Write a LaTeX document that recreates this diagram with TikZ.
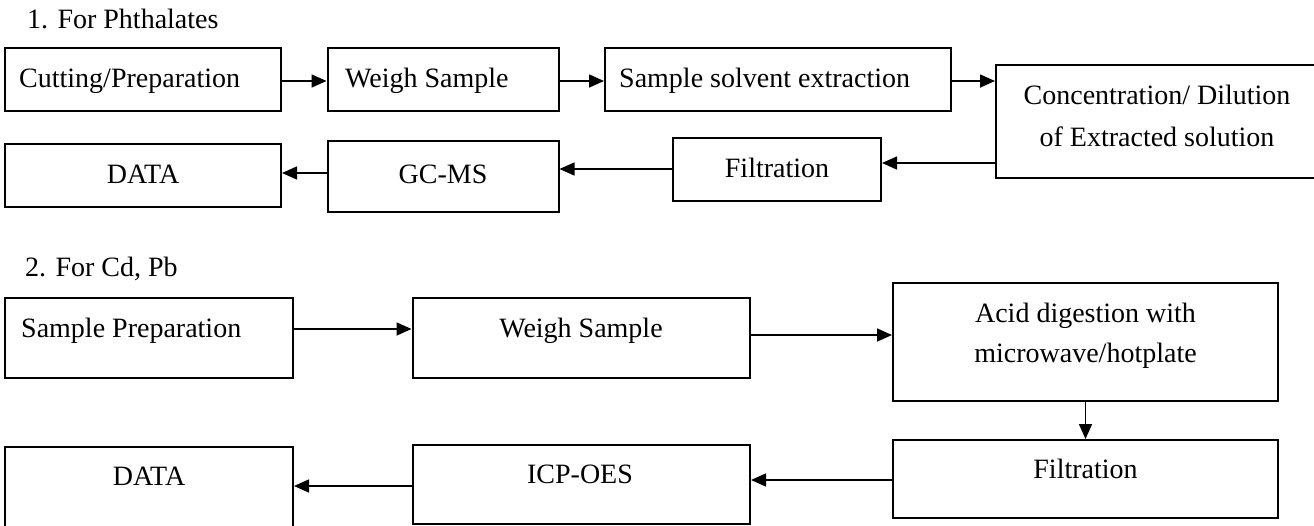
\documentclass[tikz,border=0pt]{standalone}
\usepackage{fontspec}
\setmainfont{Liberation Serif}
\usetikzlibrary{arrows.meta}
\begin{document}
\begin{tikzpicture}[x=1pt,y=-1pt,
  box/.style={draw, line width=2pt, inner sep=0pt, rectangle},
  lbl/.style={inner sep=0pt, font=\fontsize{28}{42}\selectfont},
  arr/.style={line width=1.6pt, -{Triangle[length=15pt,width=13pt]}}]
\useasboundingbox (0,0) rectangle (1314,525);
% ---------- Section 1 ----------
\node[lbl, anchor=base west] (t1) at (27,28) {1. For Phthalates};
\node[box, minimum width=276pt, minimum height=63pt] (A) at (143,79.5) {};
\node[box, minimum width=231pt, minimum height=63pt] (B) at (443,79.5) {};
\node[box, minimum width=346pt, minimum height=63pt] (C) at (778,79.5) {};
\node[box, minimum width=322pt, minimum height=113pt] (D) at (1157,121.5) {};
\node[box, minimum width=208pt, minimum height=63pt] (E) at (777,169.5) {};
\node[box, minimum width=231pt, minimum height=71pt] (F) at (443,176.5) {};
\node[box, minimum width=276pt, minimum height=63pt] (G) at (143,175.5) {};
\node[lbl, anchor=base west] (tA) at (19,87) {Cutting/Preparation};
\node[lbl, anchor=base west] (tB) at (345,87) {Weigh Sample};
\node[lbl, anchor=base west] (tC) at (619,87) {Sample solvent extraction};
\node[lbl, anchor=base] (tD1) at (1157,104) {Concentration/ Dilution};
\node[lbl, anchor=base] (tD2) at (1157,146) {of Extracted solution};
\node[lbl, anchor=base] (tE) at (777,177) {Filtration};
\node[lbl, anchor=base] (tF) at (443,183) {GC-MS};
\node[lbl, anchor=base] (tG) at (143,183) {DATA};
\draw[arr] (A.east |- 0,81) -- (B.west |- 0,81);
\draw[arr] (B.east |- 0,81) -- (C.west |- 0,81);
\draw[arr] (C.east |- 0,81) -- (D.west |- 0,81);
\draw[arr] (D.west |- 0,163) -- (E.east |- 0,163);
\draw[arr] (E.west |- 0,169) -- (F.east |- 0,169);
\draw[arr] (F.west |- 0,173) -- (G.east |- 0,173);
% ---------- Section 2 ----------
\node[lbl, anchor=base west] (t2) at (25,276) {2. For Cd, Pb};
\node[box, minimum width=288pt, minimum height=80pt] (H) at (149,338) {};
\node[box, minimum width=337.5pt, minimum height=80pt] (I) at (581.25,338) {};
\node[box, minimum width=385pt, minimum height=118pt] (J) at (1085.5,342) {};
\node[box, minimum width=385pt, minimum height=78pt] (K) at (1085.5,479) {};
\node[box, minimum width=337.5pt, minimum height=79pt] (L) at (581.25,484.5) {};
\node[box, minimum width=288pt, minimum height=85pt] (M) at (149,489.5) {};
\node[lbl, anchor=base west] (tH) at (21,337) {Sample Preparation};
\node[lbl, anchor=base] (tI) at (581,337) {Weigh Sample};
\node[lbl, anchor=base] (tJ1) at (1085.5,322) {Acid digestion with};
\node[lbl, anchor=base] (tJ2) at (1085.5,362) {microwave/hotplate};
\node[lbl, anchor=base] (tK) at (1085.5,478) {Filtration};
\node[lbl, anchor=base] (tL) at (580,483) {ICP-OES};
\node[lbl, anchor=base] (tM) at (149,485) {DATA};
\draw[arr] (H.east |- 0,329) -- (I.west |- 0,329);
\draw[arr] (I.east |- 0,335) -- (J.west |- 0,335);
\draw[arr] (J.south) -- (K.north);
\draw[arr] (K.west |- 0,480) -- (L.east |- 0,480);
\draw[arr] (L.west |- 0,486) -- (M.east |- 0,486);
\end{tikzpicture}
\end{document}
